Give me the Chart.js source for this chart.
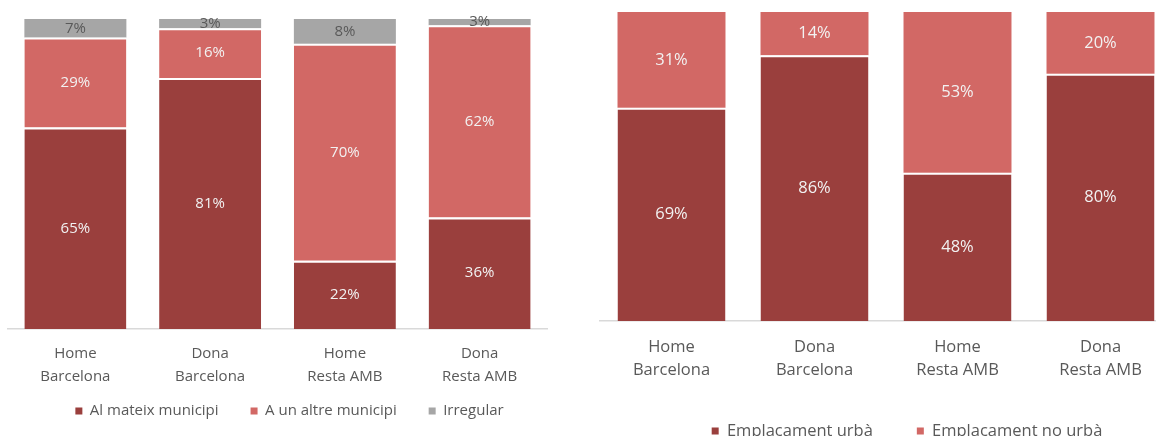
<!DOCTYPE html>
<html>
<head>
<meta charset="utf-8">
<script src="https://cdn.jsdelivr.net/npm/chart.js@4.4.1/dist/chart.umd.min.js"></script>
<style>
  html, body { margin: 0; padding: 0; background: #fff; overflow: hidden; width: 1156px; height: 436px; }
  canvas { position: absolute; top: 0; }
  #commute { left: 0; }
  #site { left: 590px; }
</style>
</head>
<body>
<canvas id="commute" width="579" height="446"></canvas>
<canvas id="site" width="634" height="460"></canvas>
<script>
// Categories shared by both charts
const groups = [['Home', 'Barcelona'], ['Dona', 'Barcelona'], ['Home', 'Resta AMB'], ['Dona', 'Resta AMB']];

// Left chart: where the workplace is
const commuteNames = ['Al mateix municipi', 'A un altre municipi', 'Irregular'];
const sameMunicipality = [65, 81, 22, 36];
const otherMunicipality = [29, 16, 70, 62];
const irregular = [7, 3, 8, 3];

// Right chart: type of site
const siteNames = ['Emplaçament urbà', 'Emplaçament no urbà'];
const urbanSite = [69, 86, 48, 80];
const nonUrbanSite = [31, 14, 53, 20];

const DARK = '#9A3F3D';
const LIGHT = '#D26865';
const GREY = '#A6A6A6';
const TEXT = '#595959';
const FONT = 'Open Sans';

// Writes each segment's value in the middle of its visible part
const segmentLabels = {
  id: 'segmentLabels',
  afterDatasetsDraw(chart, args, opts) {
    const { ctx, chartArea } = chart;
    ctx.save();
    ctx.font = opts.size + 'px "' + FONT + '"';
    ctx.textAlign = 'center';
    ctx.textBaseline = 'middle';
    chart.data.datasets.forEach((ds, i) => {
      const meta = chart.getDatasetMeta(i);
      meta.data.forEach((bar, j) => {
        const top = Math.max(bar.y, chartArea.top);
        const cy = (top + bar.base) / 2;
        ctx.fillStyle = ds.labelColor;
        ctx.fillText(ds.data[j] + '%', bar.x, cy);
      });
    });
    ctx.restore();
  }
};

// Moves the legend row so its text sits on a given line, closer to the axis labels
const legendRow = {
  id: 'legendRow',
  afterLayout(chart, args, opts) {
    const lg = chart.legend;
    if (!lg || opts.textCenter == null) return;
    const size = lg.options.labels.font.size;
    const current = lg.top + lg.options.labels.padding + size / 2;
    const dy = opts.textCenter - current;
    lg.top += dy;
    lg.bottom += dy;
  }
};

function stackedChart(canvasId, series, cfg) {
  return new Chart(document.getElementById(canvasId), {
    type: 'bar',
    data: {
      labels: groups,
      datasets: series.map(s => ({
        label: s.name,
        data: s.values,
        backgroundColor: s.color,
        borderColor: '#ffffff',
        borderWidth: s.separator ? { top: 2, right: 0, bottom: 0, left: 0 } : 0,
        borderSkipped: 'start',
        labelColor: s.labelColor,
        categoryPercentage: cfg.catPct,
        barPercentage: 1
      }))
    },
    options: {
      responsive: false,
      animation: false,
      devicePixelRatio: 1,
      layout: { padding: { top: cfg.top, bottom: cfg.bottom, left: 0, right: 0 } },
      scales: {
        x: {
          stacked: true,
          grid: { display: false, drawTicks: false },
          border: { display: true, color: '#d9d9d9', width: 1.5 },
          ticks: {
            color: TEXT,
            font: { family: FONT, size: cfg.font, lineHeight: '23px' },
            padding: cfg.tickPad,
            maxRotation: 0,
            autoSkip: false
          },
          afterFit: s => { s.height = cfg.xHeight; }
        },
        y: {
          stacked: true,
          min: 0,
          max: 100,
          grid: { display: false, drawTicks: false },
          border: { display: false },
          ticks: { display: false },
          afterFit: s => { s.width = cfg.leftGap; }
        },
        yr: {
          type: 'linear',
          position: 'right',
          min: 0,
          max: 1,
          grid: { display: false, drawTicks: false },
          border: { display: false },
          ticks: { display: false },
          afterFit: s => { s.width = cfg.rightGap; }
        }
      },
      plugins: {
        legend: {
          position: 'bottom',
          labels: {
            boxWidth: 7,
            boxHeight: 7,
            padding: cfg.legendGap,
            color: TEXT,
            font: { family: FONT, size: cfg.font },
            generateLabels: chart => chart.data.datasets.map((d, i) => ({
              text: d.label,
              fillStyle: d.backgroundColor,
              strokeStyle: d.backgroundColor,
              lineWidth: 0,
              fontColor: TEXT,
              datasetIndex: i,
              hidden: false
            }))
          }
        },
        tooltip: { enabled: false },
        segmentLabels: { size: cfg.font },
        legendRow: { textCenter: cfg.legendY }
      }
    },
    plugins: [segmentLabels, legendRow]
  });
}

stackedChart('commute', [
  { name: commuteNames[0], values: sameMunicipality, color: DARK, labelColor: '#F2F2F2', separator: true },
  { name: commuteNames[1], values: otherMunicipality, color: LIGHT, labelColor: '#F2F2F2', separator: true },
  { name: commuteNames[2], values: irregular, color: GREY, labelColor: TEXT, separator: false }
], { top: 19, bottom: 0, xHeight: 60, tickPad: 13, font: 15, legendGap: 32, legendY: 411, leftGap: 8, rightGap: 32, catPct: 0.757 });

stackedChart('site', [
  { name: siteNames[0], values: urbanSite, color: DARK, labelColor: '#F2F2F2', separator: true },
  { name: siteNames[1], values: nonUrbanSite, color: LIGHT, labelColor: '#F2F2F2', separator: false }
], { top: 12, bottom: 10.75, xHeight: 57.75, tickPad: 14.5, font: 16.5, legendGap: 44, legendY: 431, leftGap: 10, rightGap: 52, catPct: 0.755 });
</script>
</body>
</html>
